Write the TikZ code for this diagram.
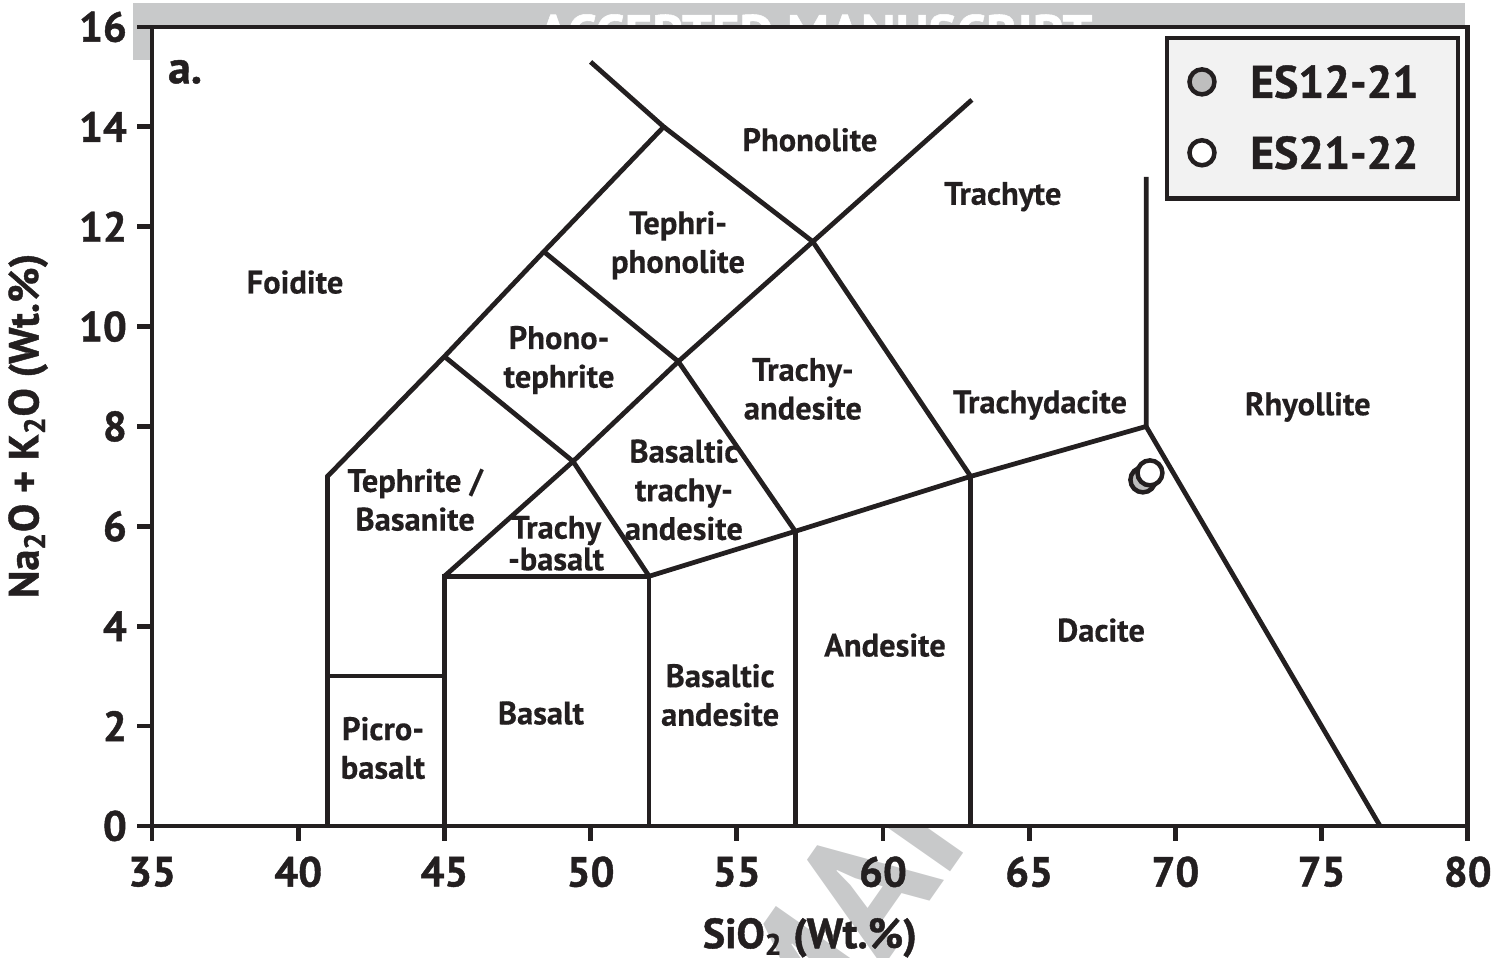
\documentclass[tikz,border=0pt]{standalone}
\usepackage{fontspec}
\setmainfont{PT Sans}
\newfontfamily\heavyfont{PT Sans}[FakeBold=1]
\newfontfamily\semifont{PT Sans}[FakeBold=0.4]
\definecolor{ink}{HTML}{231F20}
\definecolor{wmgray}{HTML}{C8C9CA}
\definecolor{legfill}{HTML}{F2F2F2}
\definecolor{dotgray}{HTML}{BEBEBE}
\begin{document}
\begin{tikzpicture}[x=0.5848cm, y=0.9988cm, line join=miter,
    field/.style={draw=ink, line width=0.095cm},
    region/.style={align=center, text=ink, inner sep=0pt, font=\semifont\bfseries\fontsize{18.5}{22}\selectfont},
    ticklabel/.style={text=ink, inner sep=0pt, font=\heavyfont\bfseries\fontsize{24}{28}\selectfont},
    axistitle/.style={text=ink, inner sep=0pt, font=\heavyfont\bfseries\fontsize{24}{28}\selectfont},
    keylabel/.style={text=ink, anchor=west, inner sep=0pt, font=\heavyfont\bfseries\fontsize{26}{30}\selectfont},
    sample/.style={circle, draw=ink, line width=0.09cm, minimum size=0.5cm, inner sep=0pt}]
    \useasboundingbox (29.80,-2.643) rectangle (81.07,16.54);
    \fill[wmgray] (34.35,15.34) rectangle (79.90,16.48);
    \node[text=white, inner sep=0pt, anchor=base, font=\heavyfont\bfseries\fontsize{30}{34}\selectfont] (wmtop) at (57.67,15.50) {ACCEPTED MANUSCRIPT};
    \node[rotate=55, text=wmgray, inner sep=0pt, anchor=west, font=\bfseries\fontsize{100}{100}\selectfont] (wmdiag) at (55.52,-4.45) {MANUSCRIPT};
    \fill[white] (35,0) rectangle (80,16);
    \coordinate (P1) at (41,0);
    \coordinate (P2) at (41,3);
    \coordinate (P3) at (45,3);
    \coordinate (P4) at (41,7);
    \coordinate (P5) at (45,9.4);
    \coordinate (P6) at (48.4,11.5);
    \coordinate (P7) at (52.5,14);
    \coordinate (P8) at (50,15.3);
    \coordinate (P9) at (57.6,11.7);
    \coordinate (P10) at (63.04,14.54);
    \coordinate (P11) at (63,7);
    \coordinate (P12) at (53,9.3);
    \coordinate (P13) at (57,5.9);
    \coordinate (P14) at (49.4,7.3);
    \coordinate (P15) at (45,5);
    \coordinate (P16) at (52,5);
    \coordinate (P17) at (45,0);
    \coordinate (P18) at (52,0);
    \coordinate (P19) at (57,0);
    \coordinate (P20) at (63,0);
    \coordinate (P21) at (69,8);
    \coordinate (P22) at (69,13);
    \coordinate (P23) at (77,0);
    \draw[field] (P1) -- (P2) -- (P4) -- (P5) -- (P6) -- (P7) -- (P8);
    \draw[field] (P2) -- (P3);
    \draw[field] (P7) -- (P9) -- (P10);
    \draw[field] (P9) -- (P11);
    \draw[field] (P6) -- (P12) -- (P9);
    \draw[field] (P12) -- (P13);
    \draw[field] (P5) -- (P14) -- (P12);
    \draw[field] (P15) -- (P14) -- (P16);
    \draw[field] (P17) -- (P15) -- (P16) -- (P18);
    \draw[field] (P16) -- (P13) -- (P11) -- (P21) -- (P22);
    \draw[field] (P13) -- (P19);
    \draw[field] (P11) -- (P20);
    \draw[field] (P21) -- (P23);
    \draw[field] (35,0) rectangle (80,16);
    \foreach \x in {35,40,...,80} {
        \draw[field] (\x,0) -- (\x,-0.30);
        \node[ticklabel] (xt\x) at (\x,-0.92) {\x};
    }
    \foreach \y in {0,2,...,16} {
        \draw[field] (35,\y) -- (34.47,\y);
        \node[ticklabel, anchor=east] (yt\y) at (34.15,\y) {\y};
    }
    \node[axistitle] (xlab) at (57.5,-2.24) {SiO\textsubscript{2} (Wt.\%)};
    \node[axistitle, rotate=90] (ylab) at (30.76,8.01) {Na\textsubscript{2}O + K\textsubscript{2}O (Wt.\%)};
    \node[ticklabel, font=\heavyfont\bfseries\fontsize{26}{30}\selectfont] (panel) at (36.13,15.10) {a.};
    \node[region] (phonolite) at (57.50,13.74) {Phonolite};
    \node[region] (trachyte) at (64.10,12.60) {Trachyte};
    \node[region] (foidite) at (39.89,10.89) {Foidite};
    \node[region] (tephriphon) at (52.99,11.63) {Tephri-\\phonolite};
    \node[region] (phonoteph) at (48.92,9.33) {Phono-\\tephrite};
    \node[region] (trachyand) at (57.26,8.75) {Trachy-\\andesite};
    \node[region] (trachydac) at (65.37,8.43) {Trachydacite};
    \node[region] (rhyolite) at (74.53,8.39) {Rhyollite};
    \node[region] (bastrachy) at (53.19,6.73) {Basaltic\\trachy-\\andesite};
    \node[region] (tephrite) at (44.00,6.53) {Tephrite /\\Basanite};
    \node[region] (trachybas) at (48.82,5.66) {Trachy\\[-4pt]-basalt};
    \node[region] (dacite) at (67.46,3.92) {Dacite};
    \node[region] (andesite) at (60.07,3.62) {Andesite};
    \node[region] (basand) at (54.43,2.62) {Basaltic\\andesite};
    \node[region] (basalt) at (48.30,2.26) {Basalt};
    \node[region] (picro) at (42.90,1.56) {Picro-\\basalt};
    \node[sample, fill=dotgray] (es1221) at (68.89,6.93) {};
    \node[sample, fill=white] (es2122) at (69.13,7.07) {};
    \draw[field, fill=legfill] (69.71,12.57) rectangle (79.67,15.78);
    \node[sample, fill=dotgray] (key1) at (70.91,14.90) {};
    \node[sample, fill=white] (key2) at (70.91,13.48) {};
    \node[keylabel] (lab1) at (72.55,14.90) {ES12-21};
    \node[keylabel] (lab2) at (72.55,13.48) {ES21-22};
\end{tikzpicture}
\end{document}
